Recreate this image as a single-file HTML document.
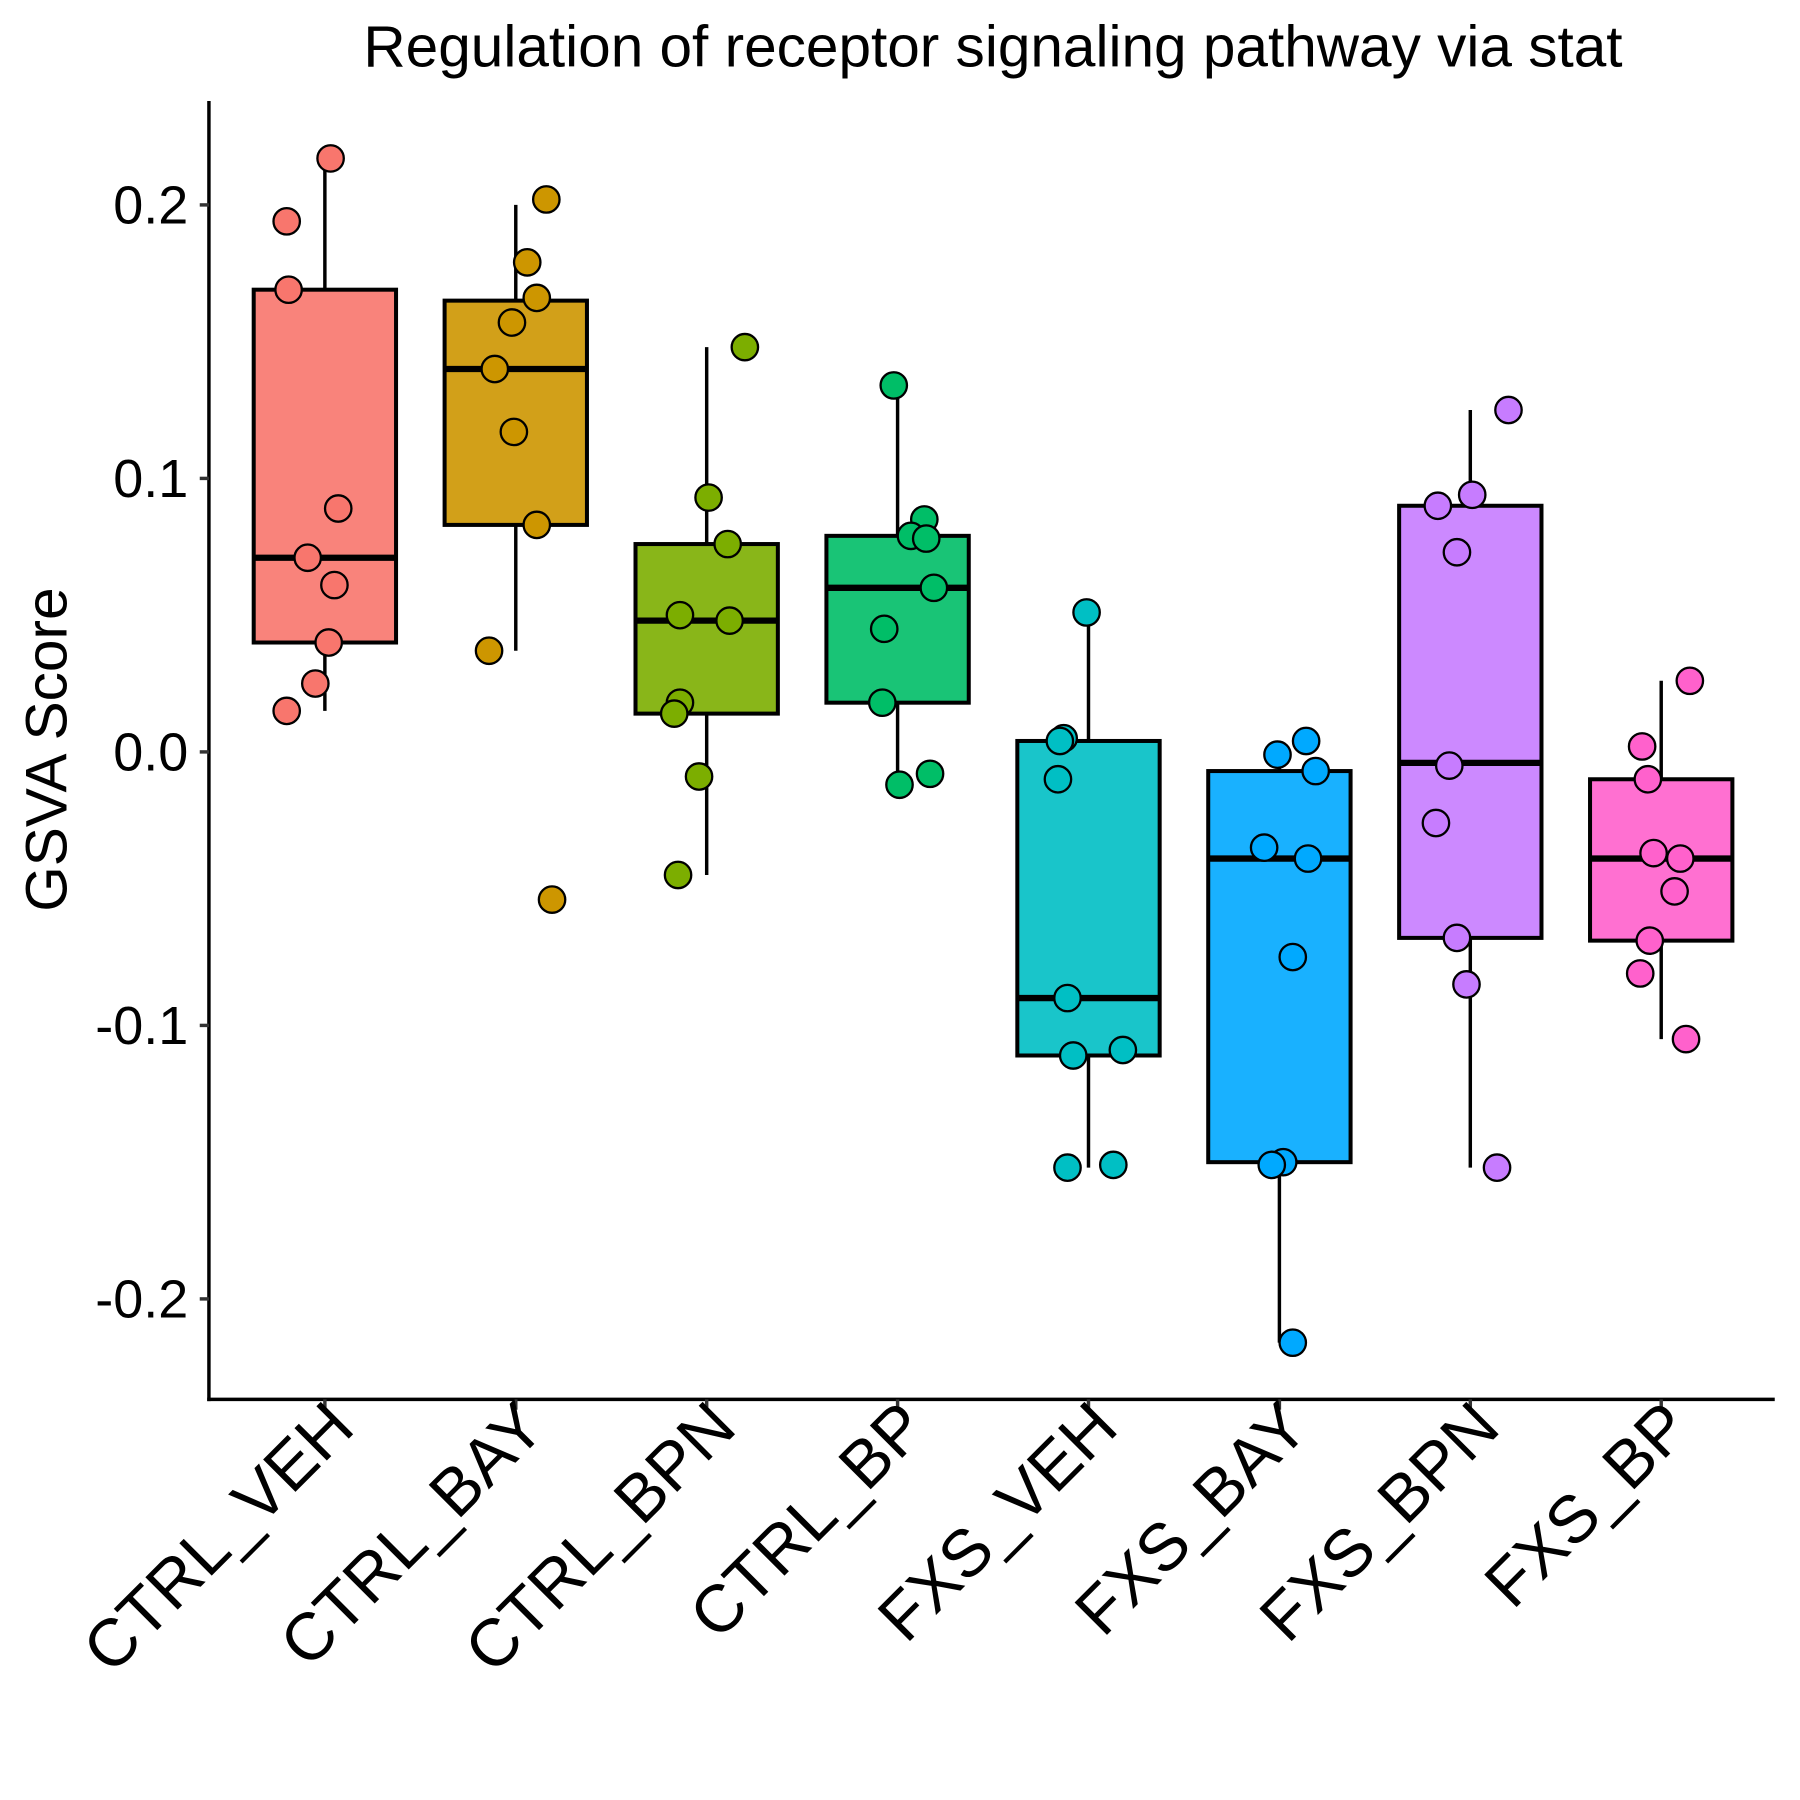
<!DOCTYPE html>
<html><head><meta charset="utf-8"><style>html,body{margin:0;padding:0;background:#fff}svg{display:block}</style></head>
<body>
<svg id="chart" width="1800" height="1800" viewBox="0 0 1568 1568" xmlns="http://www.w3.org/2000/svg" font-family="'Liberation Sans', Arial, sans-serif">
<rect width="1568" height="1568" fill="#fff"/>
<text x="865" y="58" font-size="51" text-anchor="middle">Regulation of receptor signaling pathway via stat</text>
<text transform="translate(58,653) rotate(-90)" font-size="51" text-anchor="middle">GSVA Score</text>
<g id="plot"></g>
</svg>
<script>
const categories = ["CTRL_VEH","CTRL_BAY","CTRL_BPN","CTRL_BP","FXS_VEH","FXS_BAY","FXS_BPN","FXS_BP"];
const colors = ["#F8766D","#CD9600","#7CAE00","#00BE67","#00BFC4","#00A9FF","#C77CFF","#FF61CC"];
const q1 = [0.040,0.083,0.014,0.018,-0.111,-0.150,-0.068,-0.069];
const median = [0.071,0.140,0.048,0.060,-0.090,-0.039,-0.004,-0.039];
const q3 = [0.169,0.165,0.076,0.079,0.004,-0.007,0.090,-0.010];
const whiskerHigh = [0.216,0.200,0.148,0.134,0.051,0.004,0.125,0.026];
const whiskerLow = [0.015,0.037,-0.045,-0.012,-0.152,-0.216,-0.152,-0.105];
const points = [
 [0.217,0.194,0.169,0.089,0.071,0.061,0.040,0.025,0.015],
 [0.202,0.179,0.166,0.157,0.140,0.117,0.083,0.037,-0.054],
 [0.148,0.093,0.076,0.050,0.048,0.018,0.014,-0.009,-0.045],
 [0.134,0.085,0.079,0.078,0.060,0.045,0.018,-0.008,-0.012],
 [0.051,0.005,0.004,-0.010,-0.090,-0.111,-0.109,-0.152,-0.151],
 [0.004,-0.001,-0.007,-0.035,-0.039,-0.075,-0.150,-0.151,-0.216],
 [0.125,0.094,0.090,0.073,-0.005,-0.026,-0.068,-0.085,-0.152],
 [0.026,0.002,-0.010,-0.037,-0.039,-0.051,-0.069,-0.081,-0.105]
];
const jitter = [
 [0.03,-0.20,-0.19,0.07,-0.09,0.05,0.02,-0.05,-0.20],
 [0.16,0.06,0.11,-0.02,-0.11,-0.01,0.11,-0.14,0.19],
 [0.20,0.01,0.11,-0.14,0.12,-0.14,-0.17,-0.04,-0.15],
 [-0.02,0.14,0.07,0.15,0.19,-0.07,-0.08,0.17,0.01],
 [-0.01,-0.13,-0.15,-0.16,-0.11,-0.08,0.18,-0.11,0.13],
 [0.14,-0.01,0.19,-0.08,0.15,0.07,0.02,-0.04,0.07],
 [0.20,0.01,-0.17,-0.07,-0.11,-0.18,-0.07,-0.02,0.14],
 [0.15,-0.10,-0.07,-0.04,0.10,0.07,-0.06,-0.11,0.13]
];
const yTicks = [0.2,0.1,0.0,-0.1,-0.2];
const yTickLabels = ["0.2","0.1","0.0","-0.1","-0.2"];

const NS="http://www.w3.org/2000/svg";
const g=document.getElementById('plot');
const X0=182, XR=1546, Y0=88, YB=1219;
function yScale(v){return 655 - v*2382.5;}
function xScale(i){return 283 + i*166.3;}
function mk(tag,attrs){const e=document.createElementNS(NS,tag);for(const k in attrs)e.setAttribute(k,attrs[k]);g.appendChild(e);return e;}

let ax=mk('line',{x1:X0,y1:Y0,x2:X0,y2:YB+1.5,stroke:'#000','stroke-width':3});


ax=mk('line',{x1:X0-1.5,y1:YB,x2:XR,y2:YB,stroke:'#000','stroke-width':3});



yTicks.forEach((t,i)=>{
  const y=yScale(t);
  const tk=mk('line',{x1:X0-8,y1:y,x2:X0,y2:y,stroke:'#333','stroke-width':3});
  
  
  const tx=mk('text',{x:X0-18,y:y+16,'font-size':47,'text-anchor':'end',fill:'#000'});
  tx.textContent=yTickLabels[i];
  
  
});

categories.forEach((c,i)=>{
  const cx=xScale(i), hw=62, col=colors[i];
  const w1=mk('line',{x1:cx,y1:yScale(whiskerHigh[i]),x2:cx,y2:yScale(q3[i]),stroke:'#000','stroke-width':3});
  
  
  const w2=mk('line',{x1:cx,y1:yScale(q1[i]),x2:cx,y2:yScale(whiskerLow[i]),stroke:'#000','stroke-width':3});
  
  
  const bx=mk('rect',{x:cx-hw,y:yScale(q3[i]),width:2*hw,height:yScale(q1[i])-yScale(q3[i]),fill:col,'fill-opacity':0.9,stroke:'#000','stroke-width':3.5});
  
  
  const md=mk('line',{x1:cx-hw,y1:yScale(median[i]),x2:cx+hw,y2:yScale(median[i]),stroke:'#000','stroke-width':5.5});
  
  
  points[i].forEach((v,j)=>{
    const p=mk('circle',{cx:cx+jitter[i][j]*166.3,cy:yScale(v),r:11.5,fill:col,stroke:'#000','stroke-width':2});
    
    
  });
  const tk=mk('line',{x1:cx,y1:YB,x2:cx,y2:YB+9,stroke:'#333','stroke-width':3});
  
  
  const tx=mk('text',{'font-size':58,'text-anchor':'end',transform:'translate('+(cx+28)+','+(YB+27)+') rotate(-45)'});
  tx.textContent=c;
  
  
});
</script>
</body></html>
